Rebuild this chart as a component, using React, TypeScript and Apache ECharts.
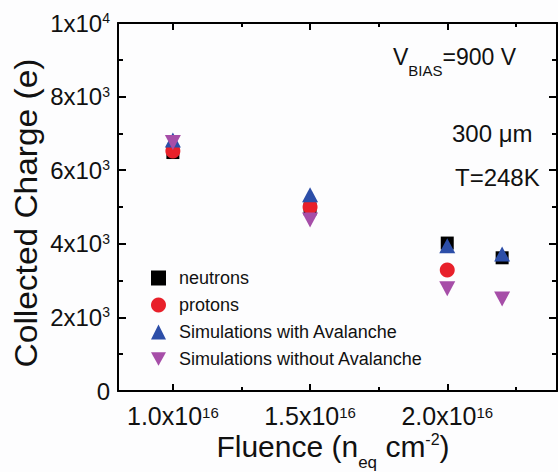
import React, { useEffect, useRef } from "react";
import * as echarts from "echarts";

// Fluence in units of 1e16 n_eq/cm^2
const fluence = [1.0, 1.5, 2.0, 2.2];
const neutrons = [6480, 4950, 4020, 3620];
const protons = [6520, 5000, 3290];
const withAvalanche = [6820, 5330, 3950, 3720];
const withoutAvalanche = [6750, 4650, 2780, 2500];

const seriesNames = [
  "neutrons",
  "protons",
  "Simulations with Avalanche",
  "Simulations without Avalanche",
];

const xMajorTicks = [1.0, 1.5, 2.0];
const xMinorTicks = [1.25, 1.75, 2.25];

const FONT = "'Liberation Sans', Arial, Helvetica, sans-serif";
const INK = "#111";

const pairs = (ys: number[]) => ys.map((y, i) => [fluence[i], y]);

export default function App() {
  const ref = useRef<HTMLDivElement>(null);

  useEffect(() => {
    if (!ref.current) return;
    const chart = echarts.init(ref.current, null, { renderer: "svg" });

    const frameLine = { show: true, lineStyle: { color: "#000", width: 2 } };
    const gridBox = { left: 118, top: 23, width: 439, height: 368 };

    const xCommon = {
      type: "value" as const,
      min: 0.8,
      max: 2.4,
      splitLine: { show: false },
    };
    const yCommon = {
      type: "value" as const,
      min: 0,
      max: 10000,
      interval: 2000,
      splitLine: { show: false },
      axisLine: frameLine,
      axisTick: { show: true, inside: true, length: 8, lineStyle: { color: "#000", width: 2 } },
      minorTick: { show: true, splitNumber: 2, length: 5, lineStyle: { color: "#000", width: 2 } },
    };

    const tickStyle = { color: "#000", width: 2 };

    chart.setOption({
      animation: false,
      backgroundColor: "#fdfdfe",
      textStyle: { fontFamily: FONT, color: INK },
      grid: { ...gridBox, containLabel: false },
      xAxis: [
        {
          ...xCommon,
          position: "bottom",
          axisLine: frameLine,
          axisTick: { show: true, inside: true, length: 7, customValues: xMajorTicks, lineStyle: tickStyle },
          axisLabel: {
            show: true,
            customValues: xMajorTicks,
            margin: 17,
            formatter: (v: number) => `{b|${v.toFixed(1)}x10}{s|16}`,
            rich: {
              b: { fontSize: 25, lineHeight: 20, verticalAlign: "bottom", color: INK, fontFamily: FONT },
              s: { fontSize: 15, lineHeight: 4, padding: [-3, 0, 0, 0], verticalAlign: "top", color: INK, fontFamily: FONT },
            },
          },
        },
        {
          ...xCommon,
          position: "bottom",
          axisLine: { show: false },
          axisTick: { show: true, inside: true, length: 4, customValues: xMinorTicks, lineStyle: tickStyle },
          axisLabel: { show: false },
        },
        {
          ...xCommon,
          position: "top",
          axisLine: frameLine,
          axisTick: { show: true, inside: true, length: 7, customValues: xMajorTicks, lineStyle: tickStyle },
          axisLabel: { show: false },
        },
        {
          ...xCommon,
          position: "top",
          axisLine: { show: false },
          axisTick: { show: true, inside: true, length: 4, customValues: xMinorTicks, lineStyle: tickStyle },
          axisLabel: { show: false },
        },
      ],
      yAxis: [
        {
          ...yCommon,
          position: "left",
          axisLabel: {
            show: true,
            margin: 8,
            formatter: (v: number) =>
              v === 0 ? "{b|0}" : v === 10000 ? "{b|1x10}{s|4}" : `{b|${v / 1000}x10}{s|3}`,
            rich: {
              b: { fontSize: 24, lineHeight: 24, verticalAlign: "bottom", color: INK, fontFamily: FONT },
              s: { fontSize: 14, lineHeight: 16, verticalAlign: "top", color: INK, fontFamily: FONT },
            },
          },
        },
        {
          ...yCommon,
          position: "right",
          axisLabel: { show: false },
        },
      ],
      legend: {
        orient: "vertical",
        left: 146,
        top: 264,
        itemWidth: 15,
        itemHeight: 15,
        itemGap: 9,
        data: seriesNames,
        textStyle: { fontSize: 18, lineHeight: 15, color: INK, fontFamily: FONT, padding: [0, 0, 0, 8] },
      },
      series: [
        {
          name: seriesNames[0],
          type: "scatter",
          data: pairs(neutrons),
          symbol: "rect",
          symbolSize: 13,
          itemStyle: { color: "#000000", opacity: 1 },
        },
        {
          name: seriesNames[1],
          type: "scatter",
          data: pairs(protons),
          symbol: "circle",
          symbolSize: 15,
          itemStyle: { color: "#e8202a", opacity: 1 },
        },
        {
          name: seriesNames[2],
          type: "scatter",
          data: pairs(withAvalanche),
          symbol: "triangle",
          symbolSize: [16, 15],
          itemStyle: { color: "#2c4ea8", opacity: 1 },
        },
        {
          name: seriesNames[3],
          type: "scatter",
          data: pairs(withoutAvalanche),
          symbol: "path://M0,0L20,0L10,18Z",
          symbolSize: [16, 15],
          itemStyle: { color: "#a64ea8", opacity: 1 },
        },
      ],
      graphic: [
        {
          type: "text",
          x: 26,
          y: 213,
          rotation: Math.PI / 2,
          scaleX: 1.08,
          style: {
            text: "Collected Charge (e)",
            font: `31px ${FONT}`,
            fill: INK,
            textAlign: "center",
            textVerticalAlign: "middle",
          },
        },
        {
          type: "text",
          x: 333,
          y: 431,
          style: {
            text: "{a|Fluence (n}{sub|eq}{a| cm}{sup|-2}{a|)}",
            textAlign: "center",
            textVerticalAlign: "top",
            fill: INK,
            rich: {
              a: { fontSize: 30, lineHeight: 28, verticalAlign: "top", fontFamily: FONT, fill: INK },
              sub: { fontSize: 17, lineHeight: 12, padding: [23, 0, 0, 0], verticalAlign: "top", fontFamily: FONT, fill: INK },
              sup: { fontSize: 16, lineHeight: 14, padding: [0, 0, 0, 0], verticalAlign: "top", fontFamily: FONT, fill: INK },
            },
          },
        },
        {
          type: "text",
          x: 393,
          y: 56,
          style: {
            text: "{a|V}{b|BIAS}{a|=900 V}",
            textAlign: "left",
            textVerticalAlign: "middle",
            fill: INK,
            rich: {
              a: { fontSize: 23, lineHeight: 22, verticalAlign: "top", fontFamily: FONT, fill: INK },
              b: { fontSize: 15, lineHeight: 14, padding: [18, 0, 0, 0], verticalAlign: "top", fontFamily: FONT, fill: INK },
            },
          },
        },
        {
          type: "text",
          x: 452,
          y: 133,
          style: {
            text: "300 \u03bcm",
            font: `24px ${FONT}`,
            fill: INK,
            textAlign: "left",
            textVerticalAlign: "middle",
          },
        },
        {
          type: "text",
          x: 455,
          y: 177,
          style: {
            text: "T=248K",
            font: `24px ${FONT}`,
            fill: INK,
            textAlign: "left",
            textVerticalAlign: "middle",
          },
        },
      ],
    });

    return () => chart.dispose();
  }, []);

  return (
    <div
      ref={ref}
      style={{ position: "fixed", left: 0, top: 0, width: 558, height: 472 }}
    />
  );
}
